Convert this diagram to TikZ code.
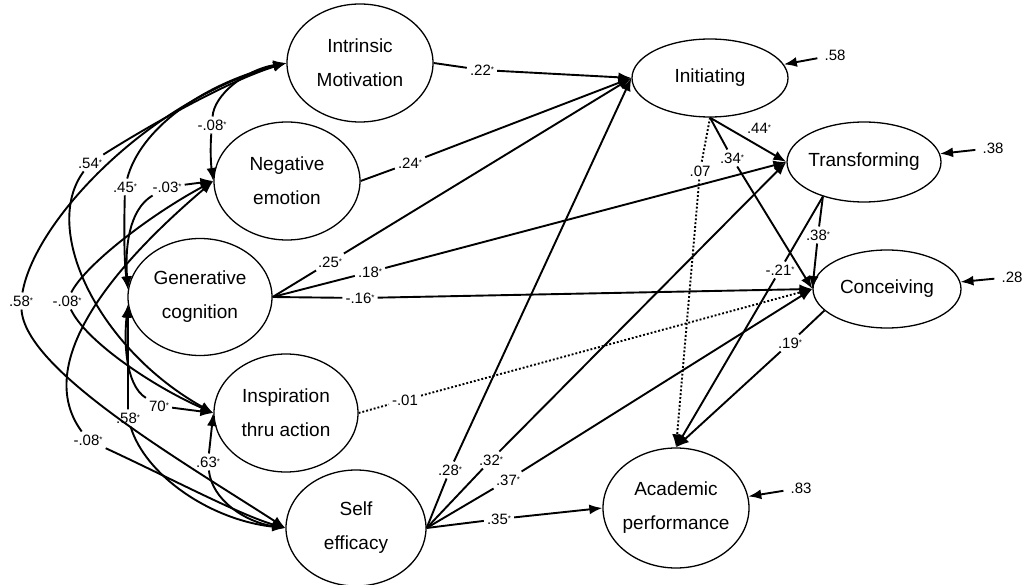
\documentclass[tikz,border=0pt]{standalone}
\usepackage{fontspec}
\setmainfont{Liberation Sans}
\usetikzlibrary{arrows.meta,shapes.geometric}
\newcommand{\sig}{\raisebox{2.5pt}{\fontsize{8}{8}\selectfont *}}
\tikzset{
  factor/.style={ellipse, draw, line width=1.3pt, inner xsep=-20pt, inner ysep=0pt, align=center, font=\fontsize{19}{34}\selectfont},
  coef/.style={font=\fontsize{15}{18}\selectfont, inner sep=3pt},
  resid/.style={coef, inner xsep=7pt},
  edge/.style={line width=1.9pt},
  arr/.style={edge, -{Latex[length=13pt,width=10pt]}},
  dots/.style={edge, dotted},
  darr/.style={arr, dotted}
}
\begin{document}
\begin{tikzpicture}[x=1pt,y=-1pt]
  \useasboundingbox (0,0) rectangle (1022,585);
  % latent variables
  \node[factor, minimum width=146pt, minimum height=118pt] (im) at (360,63) {Intrinsic\\Motivation};
  \node[factor, minimum width=146pt, minimum height=118pt] (ne) at (287,181) {Negative\\emotion};
  \node[factor, minimum width=144pt, minimum height=117pt] (gc) at (200,297) {Generative\\cognition};
  \node[factor, minimum width=144pt, minimum height=118pt] (ita) at (286,413) {Inspiration\\thru action};
  \node[factor, minimum width=140pt, minimum height=116pt] (se) at (356,528) {Self\\efficacy};
  \node[factor, minimum width=156pt, minimum height=78pt] (init) at (710,78) {Initiating};
  \node[factor, minimum width=154pt, minimum height=80pt] (tr) at (864,162) {Transforming};
  \node[factor, minimum width=148pt, minimum height=78pt] (con) at (887,289) {Conceiving};
  \node[factor, minimum width=146pt, minimum height=120pt] (ap) at (676,508) {Academic\\performance};
  % residuals
  \node[resid] (r58) at (835,55) {.58};
  \node[resid] (r38) at (993,148) {.38};
  \node[resid] (r28) at (1012,277) {.28};
  \node[resid] (r83) at (801,488) {.83};
  \draw[arr] (r58) -- (init);
  \draw[arr] (r38) -- (tr);
  \draw[arr] (r28) -- (con);
  \draw[arr] (r83) -- (ap);
  % path coefficients
  \node[coef] (p22) at (482,70) {.22\sig};
  \node[coef] (p24) at (410,163) {.24\sig};
  \node[coef] (p25) at (330,262) {.25\sig};
  \node[coef] (p18) at (370,272) {.18\sig};
  \node[coef] (p16) at (360,298) {-.16\sig};
  \node[coef] (p01) at (405,400) {-.01};
  \node[coef] (p28) at (450,470) {.28\sig};
  \node[coef] (p32) at (491,460) {.32\sig};
  \node[coef] (p37) at (508,480) {.37\sig};
  \node[coef] (p35) at (499,519) {.35\sig};
  \node[coef] (p44) at (759,128) {.44\sig};
  \node[coef] (p34) at (732,158) {.34\sig};
  \node[coef] (p07) at (700,171) {.07};
  \node[coef] (p38) at (818,235) {.38\sig};
  \node[coef] (p21) at (780,270) {-.21\sig};
  \node[coef] (p19) at (790,343) {.19\sig};
  \draw[edge] (im.east) -- (p22);  \draw[arr] (p22) -- (init.west);
  \draw[edge] (ne.east) -- (p24);  \draw[arr] (p24) -- (init.west);
  \draw[edge] (gc.east) -- (p25);  \draw[arr] (p25) -- (init.west);
  \draw[edge] (gc.east) -- (p18);  \draw[arr] (p18) -- (tr.west);
  \draw[edge] (gc.east) -- (p16);  \draw[arr] (p16) -- (con.west);
  \draw[dots] (ita.east) -- (p01); \draw[darr] (p01) -- (con.west);
  \draw[edge] (se.east) -- (p28);  \draw[arr] (p28) -- (init.west);
  \draw[edge] (se.east) -- (p32);  \draw[arr] (p32) -- (tr.west);
  \draw[edge] (se.east) -- (p37);  \draw[arr] (p37) -- (con.west);
  \draw[edge] (se.east) -- (p35);  \draw[arr] (p35) -- (ap.west);
  \draw[arr] (init.south) -- (tr.west);
  \draw[edge] (init.south) -- (p34); \draw[arr] (p34) -- (con.west);
  \draw[dots] (init.south) -- (p07); \draw[darr] (p07) -- (ap.north);
  \draw[edge] (tr.220) -- (p38);   \draw[arr] (p38) -- (con.west);
  \draw[edge] (tr.220) -- (p21);   \draw[arr] (p21) -- (ap.north);
  \draw[edge] (con.199) -- (p19);  \draw[arr] (p19) -- (ap.north);
  % correlations
  \node[coef] (c1) at (212,125) {-.08\sig};
  \node[coef] (c2) at (125,187) {.45\sig};
  \node[coef] (c3) at (90,163) {.54\sig};
  \node[coef] (c4) at (21,301) {.58\sig};
  \node[coef] (c5) at (167,187) {-.03\sig};
  \node[coef] (c6) at (67,301) {-.08\sig};
  \node[coef] (c7) at (88,440) {-.08\sig};
  \node[coef] (c8) at (159,406) {70\sig};
  \node[coef] (c9) at (128,418) {.58\sig};
  \node[coef] (c10) at (208,462) {.63\sig};
  \draw[arr] (c1) .. controls (214,95) and (245,70) .. (im.west);
  \draw[arr] (c1) .. controls (210,150) and (211,165) .. (ne.west);
  \draw[arr] (c2) .. controls (140,130) and (200,85) .. (im.west);
  \draw[arr] (c2) .. controls (124,230) and (124,260) .. (gc.174);
  \draw[arr] (c3) .. controls (150,125) and (230,80) .. (im.west);
  \draw[arr] (c3) .. controls (40,230) and (100,350) .. (ita.west);
  \draw[arr] (c4) .. controls (35,220) and (150,100) .. (im.west);
  \draw[arr] (c4) .. controls (25,370) and (180,460) .. (se.west);
  \draw[arr] (c5) -- (ne.west);
  \draw[arr] (c5) .. controls (128,210) and (125,250) .. (gc.174);
  \draw[arr] (c6) .. controls (85,265) and (150,215) .. (ne.west);
  \draw[arr] (c6) .. controls (85,340) and (150,385) .. (ita.west);
  \draw[arr] (c7) .. controls (40,375) and (85,290) .. (ne.west);
  \draw[arr] (c7) .. controls (170,478) and (240,515) .. (se.west);
  \draw[arr] (c8) .. controls (125,385) and (124,340) .. (gc.186);
  \draw[arr] (c8) -- (ita.west);
  \draw[arr] (c9) -- (gc.186);
  \draw[arr] (c9) .. controls (145,475) and (210,520) .. (se.west);
  \draw[arr] (c10) -- (ita.west);
  \draw[arr] (c10) .. controls (212,500) and (245,522) .. (se.west);
\end{tikzpicture}
\end{document}
